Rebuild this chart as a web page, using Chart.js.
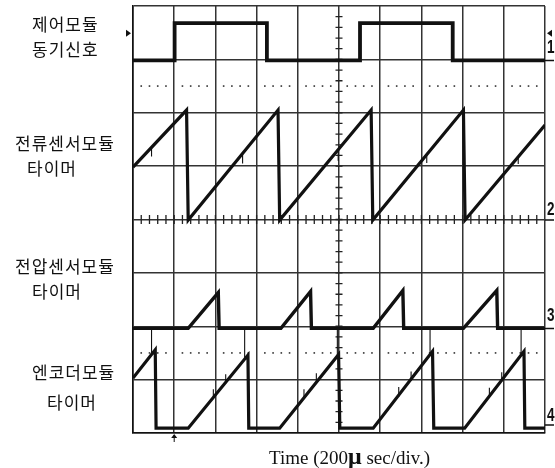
<!DOCTYPE html>
<html>
<head>
<meta charset="utf-8">
<script src="https://cdn.jsdelivr.net/npm/chart.js@4/dist/chart.umd.min.js"></script>
<style>
  body { margin: 0; background: #fff; }
  #wrap { position: relative; width: 555px; height: 468px; }
  #scope { position: absolute; left: 0; top: 0; }
  .lbl { position: absolute; font: 17px "Noto Sans CJK KR", sans-serif; line-height: 18px; letter-spacing: 1px; color: #111; white-space: nowrap; }
  .ch { position: absolute; font: bold 18px "Liberation Sans", sans-serif; line-height: 18px; color: #111; transform: scaleX(0.75); transform-origin: left center; }
  #xtitle { position: absolute; left: 269px; top: 446px; font: 19px "Liberation Serif", serif; line-height: 20px; color: #111; white-space: nowrap; }
  #xtitle span { font-weight: bold; font-size: 24px; }
</style>
</head>
<body>
<div id="wrap">
  <canvas id="scope" width="555" height="468"></canvas>
  <div class="lbl" style="left:32px;top:15px">제어모듈</div>
  <div class="lbl" style="left:32px;top:40px">동기신호</div>
  <div class="lbl" style="left:15px;top:134px">전류센서모듈</div>
  <div class="lbl" style="left:27px;top:159px">타이머</div>
  <div class="lbl" style="left:15px;top:257px">전압센서모듈</div>
  <div class="lbl" style="left:32px;top:282px">타이머</div>
  <div class="lbl" style="left:32px;top:363px">엔코더모듈</div>
  <div class="lbl" style="left:47px;top:393px">타이머</div>
  <div class="ch" style="left:547px;top:38px">1</div>
  <div class="ch" style="left:547px;top:200px">2</div>
  <div class="ch" style="left:547px;top:306px">3</div>
  <div class="ch" style="left:547px;top:406px">4</div>
  <div id="xtitle">Time (200<span>μ</span> sec/div.)</div>
</div>
<script>
// temps en divisions (200 us/div), niveaux en divisions verticales
var ch1Time = [0, 1.01, 1.01, 3.25, 3.25, 5.51, 5.51, 7.76, 7.76, 10];
var ch1Volt = [6.98, 6.98, 7.68, 7.68, 6.98, 6.98, 7.68, 7.68, 6.98, 6.98];

var ch2Time = [0, 1.30, 1.34, 3.52, 3.56, 5.78, 5.82, 8.02, 8.06, 10];
var ch2Volt = [4.98, 6.05, 3.99, 6.05, 3.99, 6.05, 3.99, 6.05, 3.99, 5.77];

var ch3Time = [0, 1.34, 2.07, 2.09, 3.59, 4.31, 4.33, 5.83, 6.55, 6.57, 8.02, 8.83, 8.85, 10];
var ch3Volt = [1.96, 1.96, 2.63, 1.96, 1.96, 2.65, 1.96, 1.96, 2.67, 1.96, 1.96, 2.67, 1.96, 1.96];

var ch4Time = [0, 0.54, 0.56, 1.34, 2.79, 2.81, 3.56, 4.99, 5.02, 5.83, 7.27, 7.30, 8.05, 9.49, 9.51, 10];
var ch4Volt = [1.03, 1.56, 0.09, 0.09, 1.46, 0.09, 0.09, 1.47, 0.09, 0.09, 1.53, 0.09, 0.09, 1.53, 0.09, 0.09];

// pics fins (parasites) : position, départ, arrivée
var glitchTime = [0.45, 2.71, 4.96, 7.21, 9.42, 0.45, 2.66, 4.98, 7.13, 9.35, 1.95, 2.25, 4.15, 4.45, 6.45, 6.75, 8.65, 8.95];
var glitchFrom = [1.47, 1.41, 1.45, 1.49, 1.48, 5.35, 5.22, 5.31, 5.21, 5.19, 0.65, 0.93, 0.65, 0.94, 0.68, 0.98, 0.67, 0.97];
var glitchTo = [1.96, 1.96, 1.96, 1.96, 1.96, 5.18, 5.05, 5.10, 5.06, 5.04, 0.82, 1.10, 0.82, 1.12, 0.86, 1.15, 0.85, 1.14];

var channelLevels = [6.98, 3.99, 1.96, 0.15];
var dottedLevels = [1.5, 6.5];
var centerTime = 5;
var centerLevel = 4;
var triggerTime = 1.0;
var markerLevel = 7.49;

function toPoints(xs, ys) {
    return xs.map(function (x, i) { return { x: x, y: ys[i] }; });
}

function glitchPoints() {
    var pts = [];
    glitchTime.forEach(function (t, i) {
        pts.push({ x: t, y: glitchFrom[i] }, { x: t, y: glitchTo[i] }, { x: t, y: null });
    });
    return pts;
}

function trace(points, width) {
    return {
        data: points,
        showLine: true,
        borderColor: '#111',
        borderWidth: width,
        pointRadius: 0,
        tension: 0,
        spanGaps: false
    };
}

var scopeMarks = {
    id: 'scopeMarks',
    beforeDatasetsDraw: function (chart) {
        var ctx = chart.ctx, x = chart.scales.x, y = chart.scales.y;
        var cx = x.getPixelForValue(centerTime), cy = y.getPixelForValue(centerLevel);
        ctx.save();
        ctx.strokeStyle = '#222';
        ctx.fillStyle = '#333';
        ctx.lineWidth = 1.3;
        ctx.beginPath();
        for (var i = 1; i < 40; i++) {
            var py = y.getPixelForValue(i * 0.2);
            ctx.moveTo(cx - 3.5, py); ctx.lineTo(cx + 3.5, py);
        }
        for (var j = 1; j < 50; j++) {
            var px = x.getPixelForValue(j * 0.2);
            ctx.moveTo(px, cy - 4.5); ctx.lineTo(px, cy + 4.5);
        }
        ctx.stroke();
        // lignes pointillées
        dottedLevels.forEach(function (lv) {
            var py = y.getPixelForValue(lv);
            for (var k = 1; k < 50; k++) {
                if (k % 5 === 0) continue;
                var px = x.getPixelForValue(k * 0.2);
                ctx.fillRect(px - 0.8, py - 0.8, 1.6, 1.6);
            }
        });
        ctx.restore();
    },
    afterDraw: function (chart) {
        var ctx = chart.ctx, area = chart.chartArea, x = chart.scales.x, y = chart.scales.y;
        ctx.save();
        ctx.fillStyle = '#111';
        ctx.strokeStyle = '#111';
        // repères de niveau à droite
        ctx.lineWidth = 1.5;
        ctx.beginPath();
        channelLevels.forEach(function (lv) {
            var py = y.getPixelForValue(lv);
            ctx.moveTo(area.right, py); ctx.lineTo(area.right + 9, py);
        });
        ctx.stroke();
        // flèches de déclenchement
        var my = y.getPixelForValue(markerLevel);
        ctx.beginPath();
        ctx.moveTo(area.left - 7, my - 3.5); ctx.lineTo(area.left - 2, my); ctx.lineTo(area.left - 7, my + 3.5);
        ctx.fill();
        ctx.beginPath();
        ctx.moveTo(area.right + 7, my - 3.5); ctx.lineTo(area.right + 2, my); ctx.lineTo(area.right + 7, my + 3.5);
        ctx.fill();
        var tx = x.getPixelForValue(triggerTime);
        ctx.lineWidth = 1;
        ctx.beginPath();
        ctx.moveTo(tx, area.bottom + 2); ctx.lineTo(tx, area.bottom + 9);
        ctx.stroke();
        ctx.beginPath();
        ctx.moveTo(tx - 3, area.bottom + 5); ctx.lineTo(tx, area.bottom + 1); ctx.lineTo(tx + 3, area.bottom + 5);
        ctx.fill();
        ctx.restore();
    }
};

function setupScope() {
    var canvas = document.getElementById('scope');
    new Chart(canvas, {
        type: 'scatter',
        data: {
            datasets: [
                trace(toPoints(ch1Time, ch1Volt), 3.8),
                trace(toPoints(ch2Time, ch2Volt), 3.2),
                trace(toPoints(ch3Time, ch3Volt), 3.4),
                trace(toPoints(ch4Time, ch4Volt), 3.2),
                trace(glitchPoints(), 1.1)
            ]
        },
        options: {
            responsive: false,
            animation: false,
            devicePixelRatio: 1,
            layout: { padding: { left: 133, right: 10, top: 6, bottom: 35 } },
            plugins: { legend: { display: false }, tooltip: { enabled: false } },
            scales: {
                x: {
                    type: 'linear', min: 0, max: 10,
                    ticks: { stepSize: 1, display: false },
                    grid: { color: '#333', lineWidth: 1.5, drawTicks: false },
                    border: { color: '#111', width: 1.6 }
                },
                y: {
                    type: 'linear', min: 0, max: 8,
                    ticks: { stepSize: 1, display: false },
                    grid: { color: '#333', lineWidth: 1.5, drawTicks: false },
                    border: { color: '#111', width: 1.6 }
                }
            }
        },
        plugins: [scopeMarks]
    });
}

setupScope();
</script>
</body>
</html>
